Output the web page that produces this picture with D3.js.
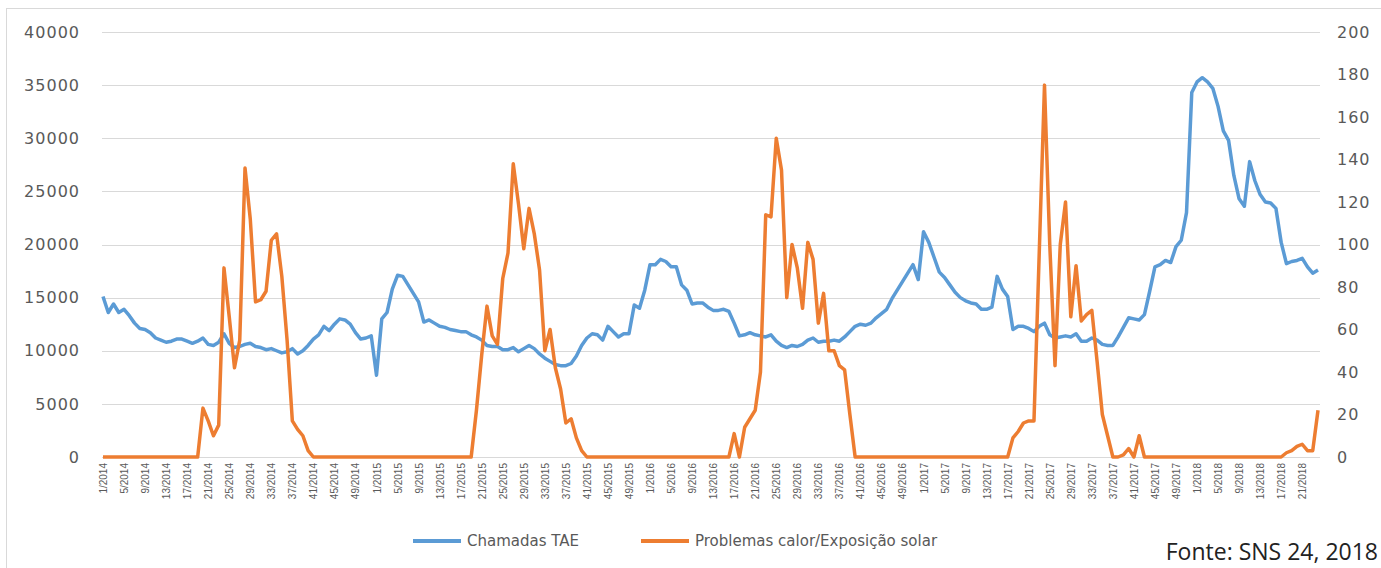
<!DOCTYPE html>
<html>
<head>
<meta charset="utf-8">
<script src="https://cdnjs.cloudflare.com/ajax/libs/d3/7.8.5/d3.min.js"></script>
<style>
  body { margin: 0; background: #fff; }
  svg text { font-family: "DejaVu Sans", sans-serif; fill: #595959; }
</style>
</head>
<body>
<div class="container"></div>
<script>
// weeks per year shown on the category axis
const years = [2014, 2015, 2016, 2017, 2018];
const weeksPerYear = [52, 52, 52, 52, 24];

// Chamadas TAE (left axis)
const calls2014 = [15100,13600,14400,13600,13900,13300,12600,12100,12000,11700,
  11200,11000,10800,10900,11100,11100,10900,10700,10900,11200,
  10600,10500,10800,11600,10700,10300,10400,10600,10700,10400,
  10300,10100,10200,10000,9800,9900,10200,9700,10000,10500,
  11100,11500,12300,11900,12500,13000,12900,12500,11700,11100,
  11200,11400];
const calls2015 = [7700,13000,13600,15800,17100,17000,16200,15400,14600,12700,
  12900,12600,12300,12200,12000,11900,11800,11800,11500,11300,
  11000,10500,10400,10400,10100,10100,10300,9900,10200,10500,
  10200,9700,9300,9000,8700,8600,8600,8800,9500,10500,
  11200,11600,11500,11000,12300,11800,11300,11600,11600,14300,
  14000,15700];
const calls2016 = [18100,18100,18600,18400,17900,17900,16200,15700,14400,14500,
  14500,14100,13800,13800,13900,13700,12600,11400,11500,11700,
  11500,11400,11300,11500,10900,10500,10300,10500,10400,10600,
  11000,11200,10800,10900,10900,11000,10900,11300,11800,12300,
  12500,12400,12600,13100,13500,13900,14900,15700,16500,17300,
  18100,16700];
const calls2017 = [21200,20200,18800,17400,16900,16200,15500,15000,14700,14500,
  14400,13900,13900,14100,17000,15800,15100,12000,12300,12300,
  12100,11800,12300,12600,11500,11200,11300,11400,11300,11600,
  10900,10900,11200,11000,10600,10500,10500,11300,12200,13100,
  13000,12900,13400,15600,17900,18100,18500,18300,19800,20400,
  23000,34300];
const calls2018 = [35300,35700,35300,34700,33000,30700,29800,26500,24300,23600,
  27800,26000,24700,24000,23900,23400,20200,18200,18400,18500,
  18700,17900,17300,17600];

// Problemas calor/Exposição solar (right axis)
const heat2014 = [0,0,0,0,0,0,0,0,0,0,0,0,0,0,0,0,0,0,0,
  23,17,10,15,89,66,42,55,136,112,73,74,78,102,105,85,55,17,13,10,3,
  0,0,0,0,0,0,0,0,0,0,0,0];
const heat2015 = [0,0,0,0,0,0,0,0,0,0,0,0,0,0,0,0,0,0,0,
  22,48,71,57,53,84,96,138,119,98,117,105,88,50,60,42,32,16,18,9,3,
  0,0,0,0,0,0,0,0,0,0,0,0];
const heat2016 = [0,0,0,0,0,0,0,0,0,0,0,0,0,0,0,0,
  11,0,14,18,22,40,114,113,150,135,75,100,89,70,101,93,63,77,50,50,43,41,20,
  0,0,0,0,0,0,0,0,0,0,0,0,0];
const heat2017 = [0,0,0,0,0,0,0,0,0,0,0,0,0,0,0,0,0,
  9,12,16,17,17,96,175,100,43,100,120,66,90,64,67,69,45,20,10,0,0,1,4,0,10,
  0,0,0,0,0,0,0,0,0,0];
const heat2018 = [0,0,0,0,0,0,0,0,0,0,0,0,0,0,0,0,0,
  2,3,5,6,3,3,22];

const leftTicks = [0, 5000, 10000, 15000, 20000, 25000, 30000, 35000, 40000];
const rightTicks = [0, 20, 40, 60, 80, 100, 120, 140, 160, 180, 200];
const seriesNames = ["Chamadas TAE", "Problemas calor/Exposição solar"];
const source = "Fonte: SNS 24, 2018";

let weeks = [];
years.forEach((y, j) => {
  for (let k = 1; k <= weeksPerYear[j]; k++) weeks.push(k + "/" + y);
});
const calls = [].concat(calls2014, calls2015, calls2016, calls2017, calls2018);
const heat = [].concat(heat2014, heat2015, heat2016, heat2017, heat2018);

const w = 1381;
const h = 568;
const plotTop = 32;
const plotBottom = 457;
const blue = "#5b9bd5";
const orange = "#ed7d31";

const xScale = d3.scalePoint().domain(weeks).range([103, 1318]);
const yLeft = d3.scaleLinear().domain([0, 40000]).range([plotBottom, plotTop]);
const yRight = d3.scaleLinear().domain([0, 200]).range([plotBottom, plotTop]);

const svg = d3.select(".container")
  .append("svg")
  .attr("width", w)
  .attr("height", h);

// outer chart border
svg.append("rect")
  .attr("x", 6.5).attr("y", 8.5)
  .attr("width", w).attr("height", h)
  .attr("fill", "none")
  .attr("stroke", "#d9d9d9");

// gridlines
svg.append("g")
  .selectAll("line")
  .data(leftTicks)
  .enter()
  .append("line")
  .attr("x1", 102).attr("x2", 1320)
  .attr("y1", (d) => Math.round(yLeft(d)) + 0.5)
  .attr("y2", (d) => Math.round(yLeft(d)) + 0.5)
  .attr("stroke", "#d9d9d9")
  .attr("stroke-width", 1);

const leftAxis = d3.axisLeft(yLeft)
  .tickValues(leftTicks)
  .tickFormat(d3.format("d"))
  .tickSize(0)
  .tickPadding(0);
svg.append("g")
  .attr("id", "y-axis-left")
  .attr("transform", "translate(80,0)")
  .call(leftAxis)
  .call((g) => g.select(".domain").remove())
  .selectAll("text")
  .style("font-family", "DejaVu Sans, sans-serif")
  .style("font-size", "16px")
  .style("letter-spacing", "1px")
  .attr("fill", "#595959");

const rightAxis = d3.axisRight(yRight)
  .tickValues(rightTicks)
  .tickFormat(d3.format("d"))
  .tickSize(0)
  .tickPadding(0);
svg.append("g")
  .attr("id", "y-axis-right")
  .attr("transform", "translate(1337,0)")
  .call(rightAxis)
  .call((g) => g.select(".domain").remove())
  .selectAll("text")
  .style("font-family", "DejaVu Sans, sans-serif")
  .style("font-size", "16px")
  .style("letter-spacing", "1px")
  .attr("fill", "#595959");

const xAxis = d3.axisBottom(xScale)
  .tickValues(weeks.filter((d, i) => i % 4 === 0))
  .tickSize(0)
  .tickPadding(0);
const gx = svg.append("g")
  .attr("id", "x-axis")
  .attr("transform", "translate(0," + plotBottom + ")")
  .call(xAxis);
gx.select(".domain").attr("stroke", "#d9d9d9").attr("d", "M102,0.5H1320");
gx.selectAll("text")
  .attr("transform", "rotate(-90)")
  .attr("x", -6)
  .attr("y", 0)
  .attr("dy", "0.35em")
  .attr("text-anchor", "end")
  .style("font-family", "Liberation Sans, sans-serif")
  .style("font-size", "10px")
  .attr("fill", "#595959");

const line = (scale) => d3.line()
  .x((d, i) => xScale(weeks[i]))
  .y((d) => scale(d))
  .curve(d3.curveLinear);

svg.append("path")
  .datum(calls)
  .attr("fill", "none")
  .attr("stroke", blue)
  .attr("stroke-width", 3.5)
  .attr("stroke-linejoin", "round")
  .attr("d", line(yLeft));

svg.append("path")
  .datum(heat)
  .attr("fill", "none")
  .attr("stroke", orange)
  .attr("stroke-width", 3.5)
  .attr("stroke-linejoin", "round")
  .attr("d", line(yRight));

// legend
const legend = svg.append("g").attr("class", "legend");
const legendX = [413, 641];
const legendColors = [blue, orange];
seriesNames.forEach((name, i) => {
  legend.append("line")
    .attr("x1", legendX[i]).attr("x2", legendX[i] + 48)
    .attr("y1", 541).attr("y2", 541)
    .attr("stroke", legendColors[i])
    .attr("stroke-width", 4);
  legend.append("text")
    .attr("x", legendX[i] + 54)
    .attr("y", 541)
    .attr("dy", "0.35em")
    .style("font-size", "15px")
    .text(name);
});

svg.append("text")
  .attr("x", 1378)
  .attr("y", 552)
  .attr("dy", "0.35em")
  .attr("text-anchor", "end")
  .style("font-family", "Open Sans, sans-serif")
  .style("font-size", "23px")
  .style("fill", "#222")
  .text(source);
</script>
</body>
</html>
